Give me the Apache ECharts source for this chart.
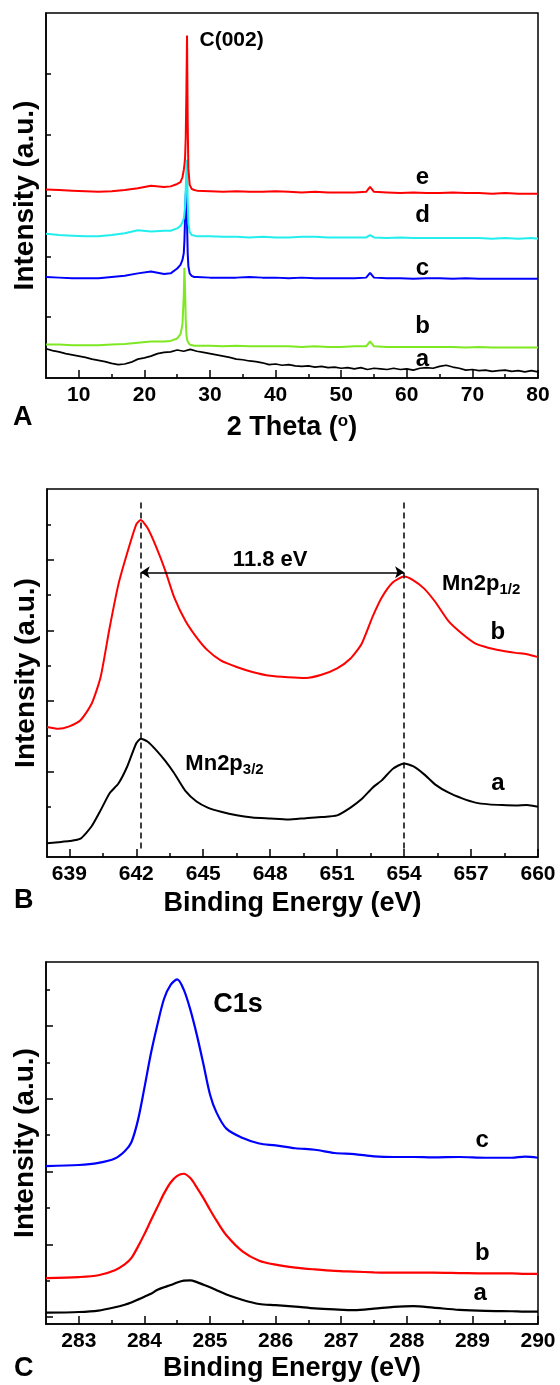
<!DOCTYPE html>
<html>
<head>
<meta charset="utf-8">
<script src="https://cdn.jsdelivr.net/npm/echarts@6/dist/echarts.min.js"></script>
<style>
  html, body { margin: 0; padding: 0; background: #fff; }
  #main { width: 560px; height: 1385px; }
</style>
</head>
<body>
<div id="main"></div>
<script>
var FONT = '"Liberation Sans", Arial, sans-serif'

// ---------- A: XRD ----------
// 2 theta for curve a (black)
var thetaBlack = [5,6,7,8,9,10,11,12,13,14,15,16,17,18,19,20,21,22,23,24,
  25,26,27,28,29,30,31,32,33,34,35,36,37,38,39,40,41,42,43,44,
  45,46,47,48,49,50,51,52,53,54,55,56,57,58,59,60,61,62,63,64,
  65,66,67,68,69,70,71,72,73,74,75,76,77,78,79,80]
var xrdA = [0.48,0.45,0.43,0.40,0.38,0.36,0.34,0.31,0.29,0.27,
  0.24,0.22,0.23,0.26,0.31,0.33,0.36,0.40,0.42,0.43,
  0.46,0.44,0.47,0.44,0.42,0.40,0.38,0.36,0.34,0.31,
  0.30,0.28,0.27,0.25,0.22,0.23,0.21,0.22,0.20,0.19,
  0.20,0.18,0.19,0.17,0.18,0.16,0.17,0.15,0.17,0.14,
  0.16,0.15,0.14,0.16,0.14,0.15,0.13,0.16,0.17,0.16,
  0.19,0.21,0.18,0.16,0.13,0.14,0.12,0.13,0.11,0.12,
  0.13,0.11,0.12,0.10,0.12,0.10]
// 2 theta for curves b-e
var theta = [5,7,9,11,13,15,17,19,21,23,
  24,25,25.5,25.8,26.0,26.1,26.2,26.3,26.4,26.5,26.6,26.7,26.9,27.2,27.6,
  28,30,32,34,36,38,40,42,44,46,48,50,52,
  53.8,54.4,55,
  57,59,61,63,65,67,69,71,73,75,77,79,80]
var xrdB = [0.55,0.55,0.54,0.54,0.54,0.55,0.56,0.58,0.60,0.60,
  0.61,0.65,0.72,0.88,1.35,1.81,1.45,0.95,0.72,0.64,0.60,0.57,0.55,0.54,0.53,
  0.53,0.53,0.52,0.53,0.52,0.52,0.52,0.52,0.51,0.52,0.51,0.51,0.52,
  0.52,0.60,0.52,
  0.51,0.51,0.51,0.51,0.51,0.51,0.50,0.51,0.50,0.50,0.50,0.50,0.50]
var xrdC = [1.66,1.65,1.64,1.64,1.64,1.66,1.68,1.72,1.75,1.71,
  1.72,1.80,1.86,1.94,2.05,2.25,2.65,3.00,3.20,2.55,2.05,1.84,1.72,1.68,1.66,
  1.66,1.65,1.65,1.65,1.66,1.65,1.65,1.64,1.65,1.64,1.64,1.64,1.64,
  1.65,1.73,1.65,
  1.64,1.64,1.63,1.64,1.64,1.63,1.64,1.63,1.63,1.63,1.63,1.63,1.63]
var xrdD = [2.37,2.35,2.34,2.33,2.33,2.35,2.38,2.43,2.41,2.42,
  2.42,2.46,2.50,2.56,2.62,2.70,2.82,3.10,3.45,3.59,2.90,2.55,2.40,2.35,2.34,
  2.33,2.33,2.32,2.32,2.31,2.32,2.31,2.31,2.32,2.32,2.31,2.31,2.31,
  2.31,2.35,2.31,
  2.30,2.31,2.30,2.30,2.30,2.30,2.30,2.30,2.29,2.30,2.29,2.30,2.29]
var xrdE = [3.10,3.09,3.08,3.07,3.06,3.07,3.09,3.12,3.16,3.14,
  3.15,3.19,3.22,3.30,3.42,3.50,3.62,3.95,4.70,5.63,4.20,3.45,3.18,3.11,3.09,
  3.08,3.07,3.06,3.07,3.06,3.06,3.07,3.06,3.05,3.06,3.05,3.05,3.05,
  3.06,3.14,3.06,
  3.05,3.04,3.05,3.04,3.04,3.05,3.04,3.04,3.03,3.04,3.03,3.03,3.03]
var thetaTicks = [10,20,30,40,50,60,70,80]
var thetaMinor = [15,25,35,45,55,65,75]

// ---------- B: Mn2p XPS ----------
var mnEnergy = [638,638.5,639,639.5,640,640.4,640.8,641.2,641.6,642.0,
  642.2,642.5,642.9,643.3,643.7,644.2,644.7,645.2,645.8,646.5,
  647.2,648.0,648.8,649.6,650.3,651.0,651.6,652.1,652.6,653.0,
  653.5,654.0,654.4,654.9,655.4,656.0,656.6,657.2,657.8,658.4,
  659.0,659.5,660]
var mnA = [-0.03,0.00,0.03,0.10,0.45,0.90,1.38,1.66,2.15,2.80,
  2.93,2.85,2.60,2.30,1.95,1.45,1.15,0.98,0.86,0.76,
  0.70,0.67,0.64,0.68,0.71,0.76,0.98,1.22,1.55,1.75,
  2.08,2.23,2.15,1.92,1.63,1.40,1.24,1.12,1.07,1.05,
  1.04,1.05,1.00]
var mnB = [3.26,3.21,3.28,3.45,3.92,4.67,6.05,7.30,8.20,9.00,
  9.12,8.90,8.35,7.69,6.93,6.27,5.80,5.43,5.14,4.96,
  4.82,4.71,4.67,4.65,4.74,4.92,5.20,5.62,6.40,6.93,
  7.36,7.52,7.42,7.18,6.80,6.25,5.90,5.62,5.50,5.42,
  5.36,5.32,5.24]
var mnTicks = [639,642,645,648,651,654,657,660]
var mnMinor = [640.5,643.5,646.5,649.5,652.5,655.5,658.5]
var mnPeaks = [642.2, 654.0]

// ---------- C: C1s XPS ----------
var cEnergy = [282.5,283.0,283.3,283.55,283.7,283.8,283.9,284.0,284.1,284.2,
  284.3,284.4,284.5,284.6,284.7,284.8,284.9,285.0,285.1,285.25,
  285.5,285.75,286.0,286.3,286.6,286.9,287.2,287.5,287.8,288.1,
  288.4,288.8,289.2,289.6,289.8,290]
var c1sA = [0.12,0.14,0.18,0.27,0.34,0.40,0.48,0.56,0.64,0.75,
  0.82,0.88,0.95,1.00,1.01,0.96,0.89,0.82,0.74,0.62,
  0.47,0.36,0.33,0.29,0.24,0.21,0.19,0.23,0.28,0.30,
  0.26,0.20,0.17,0.16,0.15,0.15]
var c1sB = [1.07,1.10,1.15,1.29,1.45,1.62,1.93,2.28,2.66,3.03,
  3.40,3.70,3.88,3.94,3.82,3.56,3.27,2.95,2.65,2.25,
  1.80,1.55,1.44,1.36,1.31,1.27,1.25,1.23,1.22,1.22,
  1.22,1.21,1.20,1.20,1.19,1.19]
var c1sC = [4.15,4.18,4.24,4.36,4.56,4.80,5.40,6.30,7.25,8.05,
  8.75,9.13,9.28,9.00,8.45,7.75,6.95,6.12,5.62,5.18,
  4.92,4.77,4.72,4.64,4.60,4.51,4.48,4.42,4.40,4.40,
  4.39,4.40,4.38,4.38,4.41,4.38]
var cTicks = [283,284,285,286,287,288,289,290]
var cMinor = [283.5,284.5,285.5,286.5,287.5,288.5,289.5]

// annotations: [xAxisIndex, yAxisIndex, x, y, text, fontSize, align]
var notes = [
  [0, 0, 62.4, 3.29, 'e', 24, 'center'],
  [0, 0, 62.4, 2.68, 'd', 24, 'center'],
  [0, 0, 62.4, 1.81, 'c', 24, 'center'],
  [0, 0, 62.4, 0.85, 'b', 24, 'center'],
  [0, 0, 62.4, 0.30, 'a', 24, 'center'],
  [0, 0, 28.4, 5.56, 'C(002)', 21, 'left'],
  [2, 1, 648.0, 8.0, '11.8 eV', 22, 'center'],
  [2, 1, 655.7, 7.31, '{m|Mn2p}{s|1/2}', 22, 'left'],
  [2, 1, 658.2, 5.95, 'b', 24, 'center'],
  [2, 1, 644.2, 2.21, '{m|Mn2p}{s|3/2}', 22, 'left'],
  [2, 1, 658.2, 1.66, 'a', 24, 'center'],
  [4, 3, 285.05, 8.59, 'C1s', 27, 'left'],
  [4, 3, 289.15, 4.87, 'c', 24, 'center'],
  [4, 3, 289.15, 1.75, 'b', 24, 'center'],
  [4, 3, 289.12, 0.66, 'a', 24, 'center']
]

var chart = echarts.init(document.getElementById('main'))

function pairs(xs, ys) {
  return xs.map(function (x, i) { return [x, ys[i]] })
}

function xMajor(grid, min, max, ticks, name, gap) {
  return {
    type: 'value', gridIndex: grid, min: min, max: max, position: 'bottom',
    axisLine: { show: true, onZero: false, lineStyle: { color: '#000', width: 1.5 } },
    axisTick: { show: true, inside: true, length: 8, customValues: ticks, lineStyle: { color: '#000', width: 1.5 } },
    axisLabel: { show: true, customValues: ticks, margin: 7, color: '#000', fontSize: 21, fontWeight: 'bold', fontFamily: FONT },
    splitLine: { show: false },
    name: name, nameLocation: 'middle', nameGap: gap,
    nameTextStyle: {
      color: '#000', fontSize: 27, fontWeight: 'bold', fontFamily: FONT, lineHeight: 30,
      rich: { sup: { fontSize: 17, fontWeight: 'bold', fontFamily: FONT, color: '#000', lineHeight: 16, verticalAlign: 'top' } }
    }
  }
}
function xMinor(grid, min, max, ticks) {
  return {
    type: 'value', gridIndex: grid, min: min, max: max, position: 'bottom',
    axisLine: { show: false, onZero: false },
    axisTick: { show: true, inside: true, length: 4, customValues: ticks, lineStyle: { color: '#000', width: 1.5 } },
    axisLabel: { show: false }, splitLine: { show: false }
  }
}
function yAxisCfg(grid, min, max, ticks, len, withName) {
  return {
    type: 'value', gridIndex: grid, min: min, max: max, position: 'left', offset: 0,
    axisLine: { show: withName, onZero: false, lineStyle: { color: '#000', width: 1.5 } },
    axisTick: { show: true, inside: true, length: len, customValues: ticks, lineStyle: { color: '#000', width: 1.5 } },
    axisLabel: { show: false }, splitLine: { show: false },
    name: withName ? 'Intensity (a.u.)' : '', nameLocation: 'middle', nameRotate: 90, nameGap: 6,
    nameTextStyle: { color: '#000', fontSize: 28, fontWeight: 'bold', fontFamily: FONT, lineHeight: 30 }
  }
}
function curve(name, xs, ys, color, xi, yi, width, smooth) {
  return {
    type: 'line', name: name, xAxisIndex: xi, yAxisIndex: yi, data: pairs(xs, ys),
    showSymbol: false, symbol: 'none', smooth: smooth, animation: false, silent: true,
    lineStyle: { color: color, width: width }, itemStyle: { color: color }
  }
}
var letterStyle = { fontSize: 27, fontWeight: 'bold', color: '#000', fontFamily: FONT }

var mnA_series = curve('a', mnEnergy, mnA, '#000', 2, 1, 2, 0.2)
mnA_series.markLine = {
  silent: true, symbol: 'none', animation: false, label: { show: false },
  lineStyle: { color: '#000', width: 1.5, type: [6, 4] },
  data: [
    [{ coord: [mnPeaks[0], 9.62] }, { coord: [mnPeaks[0], -0.24] }],
    [{ coord: [mnPeaks[1], 9.62] }, { coord: [mnPeaks[1], -0.24] }],
    [{ coord: [mnPeaks[0], 7.64], symbol: 'arrow', symbolSize: 9, lineStyle: { type: 'solid', width: 1.5 } },
     { coord: [mnPeaks[1], 7.64], symbol: 'arrow', symbolSize: 9 }]
  ]
}

chart.setOption({
  backgroundColor: '#fff',
  animation: false,
  title: [
    { text: 'A', left: 13, top: 404, padding: 0, textStyle: letterStyle },
    { text: 'B', left: 14, top: 887, padding: 0, textStyle: letterStyle },
    { text: 'C', left: 14, top: 1355, padding: 0, textStyle: letterStyle }
  ],
  grid: [
    { left: 46, top: 13, width: 492, height: 365, show: true, borderColor: '#000', borderWidth: 1.5 },
    { left: 47, top: 489, width: 491, height: 368, show: true, borderColor: '#000', borderWidth: 1.5 },
    { left: 46, top: 962, width: 492, height: 366, show: true, borderColor: '#000', borderWidth: 1.5 }
  ],
  xAxis: [
    xMajor(0, 5, 80, thetaTicks, '2 Theta ({sup|o})', 35),
    xMinor(0, 5, 80, thetaMinor),
    xMajor(1, 638, 660, mnTicks, 'Binding Energy (eV)', 32),
    xMinor(1, 638, 660, mnMinor),
    xMajor(2, 282.5, 290, cTicks, 'Binding Energy (eV)', 30),
    xMinor(2, 282.5, 290, cMinor)
  ],
  yAxis: [
    yAxisCfg(0, 0, 6, [1, 2, 3, 4, 5], 5, true),
    yAxisCfg(1, -0.42, 10, [2, 4, 6, 8], 7, true),
    yAxisCfg(1, -0.42, 10, [1, 3, 5, 7, 9], 4, false),
    yAxisCfg(2, -0.19, 9.76, [0, 2, 4, 6, 8], 7, true),
    yAxisCfg(2, -0.19, 9.76, [1, 3, 5, 7, 9], 4, false)
  ],
  series: [
    curve('a', thetaBlack, xrdA, '#000', 0, 0, 1.7, false),
    curve('b', theta, xrdB, '#7ee823', 0, 0, 2, false),
    curve('c', theta, xrdC, '#0000ff', 0, 0, 2, false),
    curve('d', theta, xrdD, '#22eeee', 0, 0, 2, false),
    curve('e', theta, xrdE, '#ff0000', 0, 0, 2, false),
    mnA_series,
    curve('b', mnEnergy, mnB, '#ff0000', 2, 1, 2, 0.2),
    curve('a', cEnergy, c1sA, '#000', 4, 3, 2.2, 0.3),
    curve('b', cEnergy, c1sB, '#ff0000', 4, 3, 2.2, 0.3),
    curve('c', cEnergy, c1sC, '#0000ff', 4, 3, 2.2, 0.3)
  ]
})

// place the annotations through the axes
var rich = {
  m: { fontSize: 22, fontWeight: 'bold', fontFamily: FONT, fill: '#000', lineHeight: 26 },
  s: { fontSize: 15, fontWeight: 'bold', fontFamily: FONT, fill: '#000', lineHeight: 15, verticalAlign: 'bottom' }
}
chart.setOption({
  graphic: notes.map(function (n) {
    var p = chart.convertToPixel({ xAxisIndex: n[0], yAxisIndex: n[1] }, [n[2], n[3]])
    return {
      type: 'text', x: p[0], y: p[1], silent: true, z: 10,
      style: {
        text: n[4], fill: '#000', align: n[6], verticalAlign: 'middle',
        font: 'bold ' + n[5] + 'px ' + FONT, rich: rich
      }
    }
  })
})
</script>
</body>
</html>
